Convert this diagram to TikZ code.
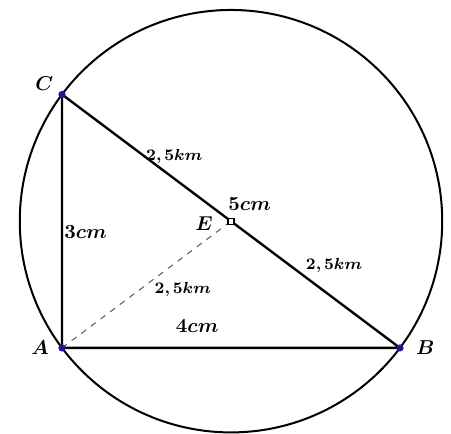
\documentclass[tikz,border=0pt]{standalone}
\usepackage{bm}
\definecolor{ptblue}{RGB}{25,25,150}
\tikzset{
  ptname/.style={font=\normalsize},
  sidelbl/.style={font=\normalsize},
  halflbl/.style={font=\footnotesize},
}

\begin{document}
\begin{tikzpicture}[x=1.48cm,y=1.48cm,line width=1pt]
  \useasboundingbox (-0.734,-1.018) rectangle (4.604,4.118);
  \coordinate (A) at (0,0);
  \coordinate (B) at (4,0);
  \coordinate (C) at (0,3);
  \coordinate (E) at (2,1.5);
  \draw (E) circle[radius=2.5];
  \draw[gray!70!black,line width=0.5pt,dashed] (A) -- (E);
  \draw[line width=1.2pt] (A) -- (B) -- (C) -- cycle;
  \fill[ptblue] (A) circle[radius=1.8pt] (B) circle[radius=1.8pt] (C) circle[radius=1.8pt];
  \draw[line width=0.6pt,fill=white] ([shift={(-1.5pt,-1.5pt)}]E) rectangle ([shift={(1.5pt,1.5pt)}]E);
  \node[ptname] (lA) at (-0.26,0) {$\bm{A}$};
  \node[ptname] (lB) at (4.30,0) {$\bm{B}$};
  \node[ptname] (lC) at (-0.21,3.13) {$\bm{C}$};
  \node[ptname] (lE) at (1.68,1.47) {$\bm{E}$};
  \node[sidelbl] (ac) at (0.28,1.37) {$\bm{3cm}$};
  \node[sidelbl] (ab) at (1.60,0.26) {$\bm{4cm}$};
  \node[sidelbl] (bc) at (2.22,1.70) {$\bm{5cm}$};
  \node[halflbl] (ce) at (1.33,2.26) {$\bm{2,5km}$};
  \node[halflbl] (eb) at (3.22,0.97) {$\bm{2,5km}$};
  \node[halflbl] (ae) at (1.43,0.69) {$\bm{2,5km}$};
\end{tikzpicture}
\end{document}
